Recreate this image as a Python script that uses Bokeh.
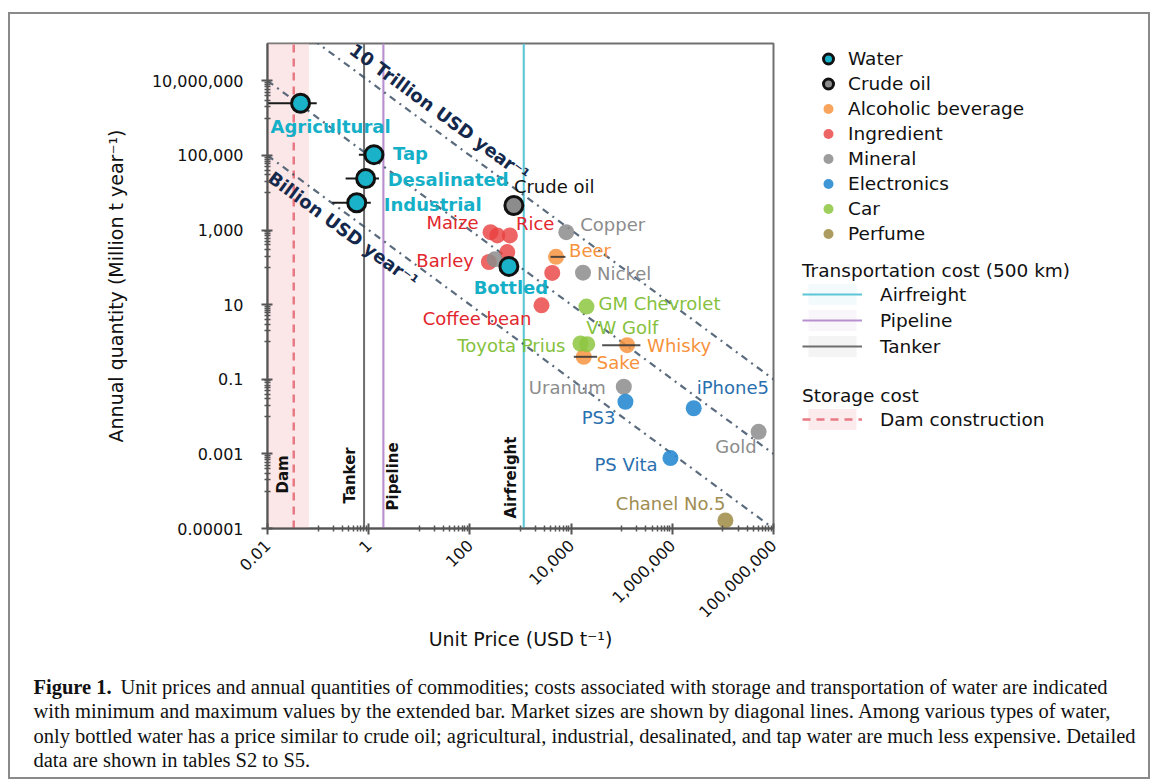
import math
from bokeh.plotting import figure
from bokeh.layouts import column, row
from bokeh.models import (ColumnDataSource, FixedTicker, Legend, LegendItem, Label, Range1d)
from bokeh.core.properties import value
from bokeh.embed import file_html
from bokeh.resources import INLINE

# ---------------- data ----------------
x_tick_values = [1e-2, 1e0, 1e2, 1e4, 1e6, 1e8]
x_tick_labels = ["0.01", "1", "100", "10,000", "1,000,000", "100,000,000"]
y_tick_values = [1e-5, 1e-3, 1e-1, 1e1, 1e3, 1e5, 1e7]
y_tick_labels = ["0.00001", "0.001", "0.1", "10", "1,000", "100,000", "10,000,000"]
x_lim = [1e-2, 1e8]
y_lim = [1e-5, 1e8]

category_labels = ["Water", "Crude oil", "Alcoholic beverage", "Ingredient",
                   "Mineral", "Electronics", "Car", "Perfume"]

water_names = ["Agricultural", "Tap", "Desalinated", "Industrial", "Bottled"]
water_price = [0.045, 1.27, 0.87, 0.58, 590]
water_qty = [2.5e6, 1.05e5, 2.4e4, 5.4e3, 106]
water_price_min = [0.004, 0.64, 0.35, 0.19, 590]
water_price_max = [0.094, 2.0, 1.6, 1.1, 590]

crude_names = ["Crude oil"]
crude_price = [740]
crude_qty = [4550]

alcohol_names = ["Beer", "Sake", "Whisky"]
alcohol_price = [5040, 17800, 128000]
alcohol_qty = [191, 0.40, 0.82]
alcohol_price_min = [3920, 11300, 41100]
alcohol_price_max = [7740, 32700, 234000]

ingredient_names = ["Maize", "", "Rice", "", "Barley", "", "Coffee bean"]
ingredient_price = [256, 348, 617, 547, 237, 4240, 2600]
ingredient_qty = [879, 718, 718, 257, 139, 71, 9.6]

mineral_names = ["Copper", "Nickel", "Uranium", "Gold", ""]
mineral_price = [8030, 17200, 110000, 5.08e7, 308]
mineral_qty = [879, 72, 0.063, 0.0039, 164]

electronics_names = ["PS3", "iPhone5", "PS Vita"]
electronics_price = [118600, 2.65e6, 9.2e5]
electronics_qty = [0.025, 0.0167, 7.7e-4]

car_names = ["GM Chevrolet", "VW Golf", "Toyota Prius"]
car_price = [20100, 20800, 15300]
car_qty = [8.9, 0.87, 0.91]

perfume_names = ["Chanel No.5"]
perfume_price = [1.12e7]
perfume_qty = [1.65e-5]

transport_names = ["Airfreight", "Pipeline", "Tanker"]
transport_cost = [1160, 1.95, 0.81]
transport_cost_min = [1090, 1.8, 0.78]
transport_cost_max = [1240, 2.1, 0.84]

dam_names = ["Dam"]
dam_legend = ["Dam construction"]
dam_cost = [0.033]
dam_cost_min = [0.004]
dam_cost_max = [0.066]

market_sizes = [1e3, 1e5, 1e7]          # (USD t-1) x (Mt year-1) = 1e6 USD year-1
market_labels = ["Billion USD year\u207b\u00b9", "", "10 Trillion USD year\u207b\u00b9"]

caption_head = "Figure 1."
caption_lines = [
    "Unit prices and annual quantities of commodities; costs associated with storage and transportation of water are indicated",
    "with minimum and maximum values by the extended bar. Market sizes are shown by diagonal lines. Among various types of water,",
    "only bottled water has a price similar to crude oil; agricultural, industrial, desalinated, and tap water are much less expensive. Detailed",
    "data are shown in tables S2 to S5.",
]

# ---------------- styles / layout ----------------
FONT = "DejaVu Sans"
SERIF = "Liberation Serif"
OX, OY = 10, 14                 # page position of the layout content (inside the border)
SPLIT_X, SPLIT_Y = 790, 660     # page x where legend panel starts, page y where caption starts
RIGHT, BOTTOM = 1148, 777
FRAME_L, FRAME_R, FRAME_T, FRAME_B = 267, 773, 43, 528

WM, HM = SPLIT_X - OX, SPLIT_Y - OY
BL, BR = FRAME_L - OX, SPLIT_X - FRAME_R
BT, BB = FRAME_T - OY, SPLIT_Y - FRAME_B
FW, FH = FRAME_R - FRAME_L, FRAME_B - FRAME_T

LABEL_POS = {
    "Agricultural": (30, 23, "center"), "Tap": (19, -1, "left"), "Desalinated": (22, 1, "left"),
    "Industrial": (27, 2, "left"), "Bottled": (2, 21, "center"), "Crude oil": (0, -19, "left"),
    "Maize": (-12, -10, "right"), "Rice": (6, -12, "left"), "Barley": (-15, -2, "right"),
    "Coffee bean": (-10, 13, "right"), "Copper": (14, -8, "left"), "Beer": (13, -6, "left"),
    "Nickel": (14, 1, "left"), "GM Chevrolet": (12, -3, "left"), "VW Golf": (-1, -17, "left"),
    "Toyota Prius": (-15, 2, "right"), "Whisky": (20, 0, "left"), "Sake": (13, 6, "left"),
    "Uranium": (-18, 1, "right"), "PS3": (-10, 16, "right"), "iPhone5": (3, -21, "left"),
    "Gold": (-2, 15, "right"), "PS Vita": (-13, 6, "right"), "Chanel No.5": (0, -17, "right"),
}
VLABEL_POS = {"Dam": (-11, -35), "Tanker": (-14, -25), "Pipeline": (10, -18), "Airfreight": (-13, -10)}
MARKET_LABEL_POS = {0: (0.314, 18), 2: (25.2, -21)}

WATER_C, CRUDE_C = "#19b2c9", "#8c8c8c"
ALC_C, ING_C, MIN_C = "#f7943f", "#e8403e", "#8c8c8c"
ELEC_C, CAR_C, PERF_C = "#2a8bd1", "#8dc540", "#a4914f"
TRANSPORT_C = {"Airfreight": "#5cc5d6", "Pipeline": "#b78fd0", "Tanker": "#6e6e6e"}
DAM_C = "#e87a84"

# ================= main chart =================
p = figure(width=WM, height=HM, x_axis_type="log", y_axis_type="log",
           x_range=Range1d(x_lim[0], x_lim[1]), y_range=Range1d(y_lim[0], y_lim[1]),
           output_backend="svg", toolbar_location=None,
           min_border_left=BL, min_border_right=BR, min_border_top=BT, min_border_bottom=BB)
p.grid.visible = False
p.outline_line_color = "#707070"
p.outline_line_width = 2
p.background_fill_color = "white"
p.border_fill_color = "white"

x_minor = [k * v / 10 for v in x_tick_values[1:] for k in range(1, 10)]
y_minor = [k * v / 10 for v in y_tick_values[1:] for k in range(1, 10)]
p.xaxis.ticker = FixedTicker(ticks=x_tick_values, minor_ticks=x_minor)
p.yaxis.ticker = FixedTicker(ticks=y_tick_values, minor_ticks=y_minor)
p.xaxis.major_label_overrides = dict(zip(x_tick_values, x_tick_labels))
p.yaxis.major_label_overrides = dict(zip(y_tick_values, y_tick_labels))
p.xaxis.major_label_orientation = math.pi / 4
for ax in (p.xaxis, p.yaxis):
    ax.axis_line_color = "#555555"
    ax.axis_line_width = 2
    ax.major_tick_line_color = "#555555"
    ax.major_tick_line_width = 2
    ax.major_tick_in = 5
    ax.major_tick_out = 6
    ax.minor_tick_line_color = "#555555"
    ax.minor_tick_line_width = 1.5
    ax.minor_tick_in = 3
    ax.minor_tick_out = 3
    ax.major_label_text_font = FONT
    ax.major_label_text_font_size = "16px"
    ax.major_label_text_color = "#111111"
    ax.axis_label_text_font = FONT
    ax.axis_label_text_font_size = "19px"
    ax.axis_label_text_font_style = "normal"
    ax.axis_label_text_color = "#111111"
p.yaxis.major_label_standoff = 18
p.xaxis.major_label_standoff = 8
p.yaxis.axis_label = "Annual quantity (Million t year\u207b\u00b9)"
p.xaxis.axis_label = "Unit Price (USD t\u207b\u00b9)"
p.yaxis.axis_label_standoff = 22
p.xaxis.axis_label_standoff = 2

# storage band and dam line
p.quad(left=dam_cost_min, right=dam_cost_max, bottom=[y_lim[0]], top=[y_lim[1]],
       fill_color="#f8d3d6", fill_alpha=0.55, line_alpha=0)
p.segment(x0=dam_cost, y0=[y_lim[0]], x1=dam_cost, y1=[y_lim[1]],
          line_color=DAM_C, line_width=2.5, line_dash="8 6")

# transport lines
for name, c, cmin, cmax in zip(transport_names, transport_cost, transport_cost_min, transport_cost_max):
    col = TRANSPORT_C[name]
    p.quad(left=[cmin], right=[cmax], bottom=[y_lim[0]], top=[y_lim[1]],
           fill_color=col, fill_alpha=0.12, line_alpha=0)
    p.segment(x0=[c], y0=[y_lim[0]], x1=[c], y1=[y_lim[1]], line_color=col, line_width=2)

# market size diagonals
for s in market_sizes:
    p.line(x=x_lim, y=[s / x for x in x_lim], line_color="#3d5166", line_alpha=0.85,
           line_width=2.2, line_dash="7 5 2 5")

# error bars (water, behind markers)
p.segment(x0=water_price_min, y0=water_qty, x1=water_price_max, y1=water_qty,
          line_color="#1a1a1a", line_width=2)

MARK = {
    "Water": dict(size=18, fill_color=WATER_C, line_color="#111111", line_width=3),
    "Crude oil": dict(size=18, fill_color=CRUDE_C, line_color="#111111", line_width=3),
    "Alcoholic beverage": dict(size=16, fill_color=ALC_C, fill_alpha=0.85, line_alpha=0),
    "Ingredient": dict(size=16, fill_color=ING_C, fill_alpha=0.8, line_alpha=0),
    "Mineral": dict(size=16, fill_color=MIN_C, fill_alpha=0.85, line_alpha=0),
    "Electronics": dict(size=16, fill_color=ELEC_C, fill_alpha=0.9, line_alpha=0),
    "Car": dict(size=16, fill_color=CAR_C, fill_alpha=0.85, line_alpha=0),
    "Perfume": dict(size=16, fill_color=PERF_C, fill_alpha=0.9, line_alpha=0),
}
cat_data = {
    "Water": (water_price, water_qty), "Crude oil": (crude_price, crude_qty),
    "Alcoholic beverage": (alcohol_price, alcohol_qty), "Ingredient": (ingredient_price, ingredient_qty),
    "Mineral": (mineral_price, mineral_qty), "Electronics": (electronics_price, electronics_qty),
    "Car": (car_price, car_qty), "Perfume": (perfume_price, perfume_qty),
}
draw_order = ["Ingredient", "Mineral", "Alcoholic beverage", "Electronics", "Car", "Perfume",
              "Crude oil", "Water"]
for cat in draw_order:
    xs, ys = cat_data[cat]
    p.scatter(xs, ys, **MARK[cat])

# alcoholic beverage ranges (drawn on top)
p.segment(x0=alcohol_price_min, y0=alcohol_qty, x1=alcohol_price_max, y1=alcohol_qty,
          line_color="#333333", line_width=2, line_alpha=0.85)


def add_labels(names, xs, ys, color, bold=False):
    for align in ("left", "right", "center"):
        sel = [i for i, n in enumerate(names) if n and LABEL_POS[n][2] == align]
        if not sel:
            continue
        src = ColumnDataSource(dict(
            x=[xs[i] for i in sel], y=[ys[i] for i in sel], t=[names[i] for i in sel],
            dx=[LABEL_POS[names[i]][0] for i in sel], dy=[LABEL_POS[names[i]][1] for i in sel]))
        p.text(x="x", y="y", text="t", x_offset="dx", y_offset="dy", source=src,
               text_align=align, text_baseline="middle", text_font=value(FONT),
               text_font_size="18px", text_color=color,
               text_font_style="bold" if bold else "normal")


add_labels(water_names, water_price, water_qty, "#15b0c8", bold=True)
add_labels(crude_names, crude_price, crude_qty, "#111111")
add_labels(ingredient_names, ingredient_price, ingredient_qty, "#e2262d")
add_labels(mineral_names, mineral_price, mineral_qty, "#8c8c8c")
add_labels(alcohol_names, alcohol_price, alcohol_qty, "#f7923c")
add_labels(electronics_names, electronics_price, electronics_qty, "#2a6fae")
add_labels(car_names, car_price, car_qty, "#86c13d")
add_labels(perfume_names, perfume_price, perfume_qty, "#a08d52")

v_names = dam_names + transport_names
v_cost = dam_cost + transport_cost
vsrc = ColumnDataSource(dict(x=v_cost, y=[y_lim[0]] * len(v_cost), t=v_names,
                             dx=[VLABEL_POS[n][0] for n in v_names],
                             dy=[VLABEL_POS[n][1] for n in v_names]))
p.text(x="x", y="y", text="t", x_offset="dx", y_offset="dy", source=vsrc, angle=math.pi / 2,
       text_align="left", text_baseline="middle", text_font=value(FONT), text_font_size="15px",
       text_font_style="bold", text_color="#111111")

ang = -math.atan((FH / math.log10(y_lim[1] / y_lim[0])) / (FW / math.log10(x_lim[1] / x_lim[0])))
for i, (s, lab) in enumerate(zip(market_sizes, market_labels)):
    if not lab:
        continue
    lx, off = MARKET_LABEL_POS[i]
    p.text(x=[lx], y=[s / lx], text=[lab], y_offset=off, angle=ang, text_align="center",
           text_baseline="middle", text_font=value(FONT), text_font_size="18px",
           text_font_style="bold", text_color="#14284b")

# ================= legend panel =================
WL = RIGHT - SPLIT_X
pl = figure(width=WL, height=HM, x_range=Range1d(0, 1), y_range=Range1d(0, 1),
            x_axis_location=None, y_axis_location=None, min_border=0,
            output_backend="svg", toolbar_location=None)
pl.outline_line_color = None
pl.grid.visible = False
pl.background_fill_color = "white"
pl.border_fill_color = "white"

cat_proxies = []
for cat in category_labels:
    xs, ys = cat_data[cat]
    cat_proxies.append(pl.scatter(xs, ys, visible=False, **MARK[cat]))

transport_items = []
for name, c, cmin, cmax in zip(transport_names, transport_cost, transport_cost_min, transport_cost_max):
    col = TRANSPORT_C[name]
    rb = pl.quad(left=[cmin], right=[cmax], bottom=[y_lim[0]], top=[y_lim[1]],
                 fill_color=col, fill_alpha=0.08, line_alpha=0, visible=False)
    rl = pl.segment(x0=[c], y0=[y_lim[0]], x1=[c], y1=[y_lim[1]], line_color=col, line_width=2,
                    visible=False)
    transport_items.append(LegendItem(label=name, renderers=[rb, rl]))

r_dam_band = pl.quad(left=dam_cost_min, right=dam_cost_max, bottom=[y_lim[0]], top=[y_lim[1]],
                     fill_color="#f8d3d6", fill_alpha=0.45, line_alpha=0, visible=False)
r_dam_line = pl.segment(x0=dam_cost, y0=[y_lim[0]], x1=dam_cost, y1=[y_lim[1]],
                        line_color=DAM_C, line_width=2.5, line_dash="8 6", visible=False)


def style_legend(leg, gw, gh, standoff):
    leg.padding = 0
    leg.margin = 0
    leg.spacing = 0
    leg.border_line_alpha = 0
    leg.background_fill_alpha = 0
    leg.label_text_font = FONT
    leg.label_text_font_size = "18.5px"
    leg.label_text_color = "#111111"
    leg.title_text_font = FONT
    leg.title_text_font_size = "18.5px"
    leg.title_text_font_style = "normal"
    leg.title_text_color = "#111111"
    leg.title_standoff = 0
    leg.click_policy = "none"
    leg.glyph_width = gw
    leg.glyph_height = gh
    leg.label_height = 20
    leg.label_standoff = standoff


def loc(page_left, page_bottom):
    # the legend panel's frame is aligned with the chart frame in the row layout
    return (page_left - SPLIT_X, FRAME_B - page_bottom)


leg1 = Legend(items=[LegendItem(label=l, renderers=[r]) for l, r in zip(category_labels, cat_proxies)],
              location=loc(815, 245.5))
style_legend(leg1, 26, 25, 7)
leg2 = Legend(items=transport_items, title="Transportation cost (500 km)", location=loc(802, 359))
style_legend(leg2, 60, 26, 18)
leg3 = Legend(items=[LegendItem(label=dam_legend[0], renderers=[r_dam_band, r_dam_line])],
              title="Storage cost", location=loc(802, 432))
style_legend(leg3, 60, 26, 18)
for leg in (leg1, leg2, leg3):
    pl.add_layout(leg)

# ================= caption panel =================
WC, HC = RIGHT - OX, BOTTOM - SPLIT_Y
pc = figure(width=WC, height=HC, x_range=Range1d(0, 1), y_range=Range1d(0, 1),
            x_axis_location=None, y_axis_location=None, min_border=0,
            output_backend="svg", toolbar_location=None)
pc.outline_line_color = None
pc.grid.visible = False
pc.background_fill_color = "white"
pc.border_fill_color = "white"

cap_y = [686, 710.5, 735, 759.5]
pc.add_layout(Label(x=33 - OX, y=BOTTOM - cap_y[0], x_units="screen", y_units="screen",
                    text=caption_head, text_font=SERIF, text_font_size="20.5px",
                    text_font_style="bold", text_baseline="middle", text_color="#111111"))
for i, line in enumerate(caption_lines):
    x0 = 120 if i == 0 else 33
    pc.add_layout(Label(x=x0 - OX, y=BOTTOM - cap_y[i], x_units="screen", y_units="screen",
                        text=line, text_font=SERIF, text_font_size="20.5px",
                        text_baseline="middle", text_color="#111111"))

layout = column(row(p, pl), pc,
                styles={"border": "2px solid #8a8a8a", "margin-left": "8px", "margin-top": "12px"})

open("out.html", "w").write(file_html(layout, INLINE))
